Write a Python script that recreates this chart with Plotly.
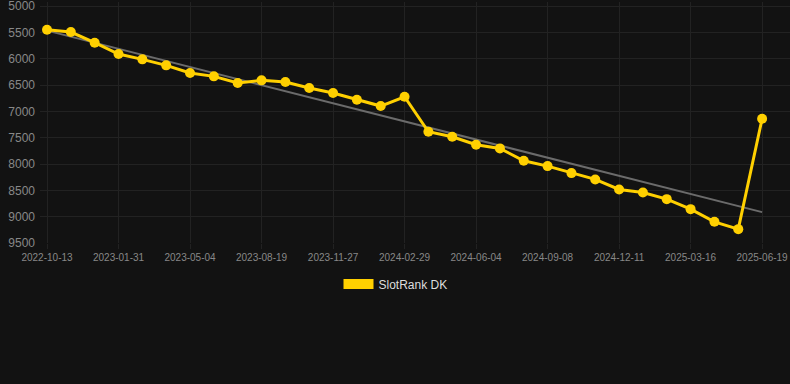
import numpy as np
import plotly.graph_objects as go

dates = [
    "2022-10-13", "2022-11-18", "2022-12-24", "2023-01-31", "2023-03-02", "2023-04-02",
    "2023-05-04", "2023-06-08", "2023-07-14", "2023-08-19", "2023-09-21", "2023-10-24",
    "2023-11-27", "2023-12-29", "2024-01-29", "2024-02-29", "2024-04-01", "2024-05-03",
    "2024-06-04", "2024-07-06", "2024-08-07", "2024-09-08", "2024-10-10", "2024-11-10",
    "2024-12-11", "2025-01-12", "2025-02-13", "2025-03-16", "2025-04-17", "2025-05-19",
    "2025-06-19",
]
ranks = [
    5450, 5494, 5697, 5912, 6013, 6127, 6273, 6336, 6463, 6412, 6444, 6558, 6653, 6780,
    6900, 6723, 7388, 7483, 7635, 7704, 7939, 8040, 8173, 8293, 8483, 8540, 8667, 8857,
    9098, 9237, 7141,
]
tick_labels = dates[::3]
y_ticks = [5000, 5500, 6000, 6500, 7000, 7500, 8000, 8500, 9000, 9500]

idx = np.arange(len(ranks))
slope, intercept = np.polyfit(idx, ranks, 1)
trend = [intercept, intercept + slope * idx[-1]]

fig = go.Figure()
fig.add_trace(go.Scatter(
    x=[dates[0], dates[-1]], y=trend, mode="lines",
    line=dict(color="#6b6b6b", width=2), showlegend=False, hoverinfo="skip",
))
fig.add_trace(go.Scatter(
    x=dates, y=ranks, mode="lines+markers", name="SlotRank DK",
    line=dict(color="#FFD000", width=3),
    marker=dict(color="#FFD000", size=10),
    cliponaxis=False, showlegend=False,
))
fig.add_trace(go.Scatter(
    x=[None], y=[None], mode="lines", name="SlotRank DK",
    line=dict(color="#FFD000", width=12),
))

fig.update_layout(
    width=790, height=384,
    margin=dict(l=40, r=0, t=2, b=141),
    paper_bgcolor="#121212", plot_bgcolor="#121212",
    font=dict(family="Liberation Sans, Arial, sans-serif", color="#888888"),
    showlegend=True,
    legend=dict(orientation="h", x=0.474, xanchor="center",
                y=-0.11, yanchor="top",
                font=dict(size=12, color="#dddddd"), bgcolor="rgba(0,0,0,0)"),
    xaxis=dict(
        type="category", categoryorder="array", categoryarray=dates,
        range=[-0.294, 31.17],
        tickvals=tick_labels, ticktext=tick_labels, tickangle=0,
        tickfont=dict(size=10, color="#888888"),
        showgrid=True, gridcolor="#222222", gridwidth=1,
        zeroline=False, showline=False, ticks="outside", ticklen=5, tickcolor="#222222",
    ),
    yaxis=dict(
        autorange=False, range=[9500, 4924],
        tickvals=y_ticks, tickfont=dict(size=12, color="#888888"),
        showgrid=True, gridcolor="#222222", gridwidth=1,
        zeroline=False, showline=False, ticks="", ticklabelstandoff=4,
        ticklabeloverflow="allow",
    ),
)
fig.write_html("out.html", config={"displayModeBar": False},
               post_script="document.body.style.margin='0';")
